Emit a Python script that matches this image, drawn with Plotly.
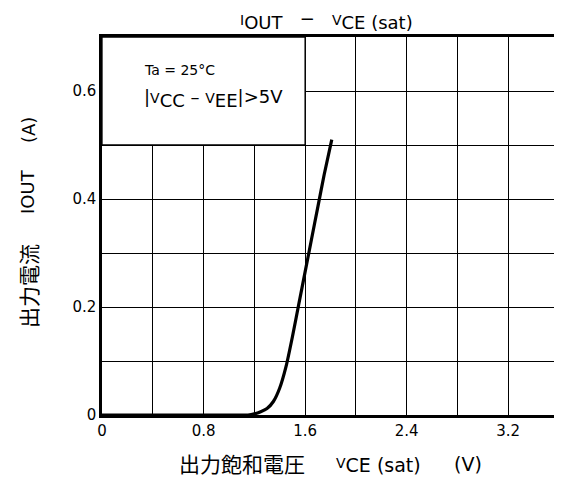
import plotly.graph_objects as go

# Curve data: output current vs output saturation voltage
vce = [0.0, 0.6, 1.15, 1.2, 1.25, 1.3, 1.35, 1.4, 1.45, 1.5, 1.55, 1.6, 1.65, 1.7, 1.75, 1.81]
iout = [0.0, 0.0, 0.0, 0.002, 0.006, 0.012, 0.025, 0.05, 0.09, 0.145, 0.205, 0.265, 0.325, 0.385, 0.445, 0.51]

x_ticks = [0, 0.8, 1.6, 2.4, 3.2]
x_labels = ["0", "0.8", "1.6", "2.4", "3.2"]
y_ticks = [0, 0.2, 0.4, 0.6]
y_labels = ["0", "0.2", "0.4", "0.6"]

LAT = "DejaVu Sans"
CJK = "Noto Sans CJK JP"

W, H = 554, 472
L, R, T, B = 94, 3, 29, 65

fig = go.Figure()
fig.add_trace(go.Scatter(x=vce, y=iout, mode="lines",
                         line=dict(color="black", width=3.2, shape="spline", smoothing=0.6),
                         showlegend=False, cliponaxis=False))

fig.update_layout(
    width=W, height=H,
    margin=dict(l=L, r=R, t=T, b=B),
    paper_bgcolor="white", plot_bgcolor="white",
    font=dict(family=LAT, color="black", size=14),
)
common = dict(showgrid=True, gridcolor="black", gridwidth=1.3,
              showline=True, linecolor="black", linewidth=2.5, mirror=True,
              zeroline=False, ticks="", automargin=False,
              tickfont=dict(size=15, family=LAT))
fig.update_xaxes(range=[0, 3.6], tickmode="array", tickvals=x_ticks, ticktext=x_labels,
                 minor=dict(dtick=0.4, tick0=0, showgrid=True, gridcolor="black", gridwidth=1.3),
                 **common)
fig.update_yaxes(range=[0, 0.7], tickmode="array", tickvals=y_ticks, ticktext=y_labels,
                 minor=dict(dtick=0.1, tick0=0, showgrid=True, gridcolor="black", gridwidth=1.3),
                 ticklabelstandoff=0, **common)

pw = W - L - R
ph = H - T - B


def px(sx):
    return (sx - 8 - L) / pw


def py(sy):
    return (H - B - (sy - 8)) / ph


def lowered(head, tail, size):
    """Small leading letter followed by a slightly lowered, full-size tail."""
    return (f"<span style='font-size:{round(size * 0.75)}px'>{head}</span>"
            f"<sub><span style='font-size:{size}px'>{tail}</span></sub>")


def label(sx, sy, text, size, family=LAT, angle=0, anchor="center"):
    fig.add_annotation(xref="paper", yref="paper", x=px(sx), y=py(sy), showarrow=False,
                       xanchor=anchor, yanchor="middle", textangle=angle, text=text,
                       font=dict(size=size, family=family))


# Title
label(326, 20, lowered("I", "OUT", 18) + "   −   " + lowered("V", "CE (sat)", 18), 18)
# X axis title
label(242, 463, "出力飽和電圧", 21, family=CJK)
label(378, 465, lowered("V", "CE (sat)", 19), 19)
label(468, 464, "(V)", 19)
# Y axis title
label(28, 286, "出力電流", 21, family=CJK, angle=-90)
label(28, 192, "IOUT", 18, angle=-90)
label(28, 130, "(A)", 18, angle=-90)

# Condition box covering the grid in the upper-left
fig.add_shape(type="rect", xref="x", yref="y", x0=0, x1=1.6, y0=0.5, y1=0.7,
              fillcolor="white", line=dict(color="black", width=1.3), layer="between")
label(142, 70, "Ta = 25°C", 14, anchor="left")
label(142, 98, "|" + lowered("V", "CC", 18) + " – " + lowered("V", "EE", 18) + "|>5V",
      18, anchor="left")

fig.write_html("out.html")
